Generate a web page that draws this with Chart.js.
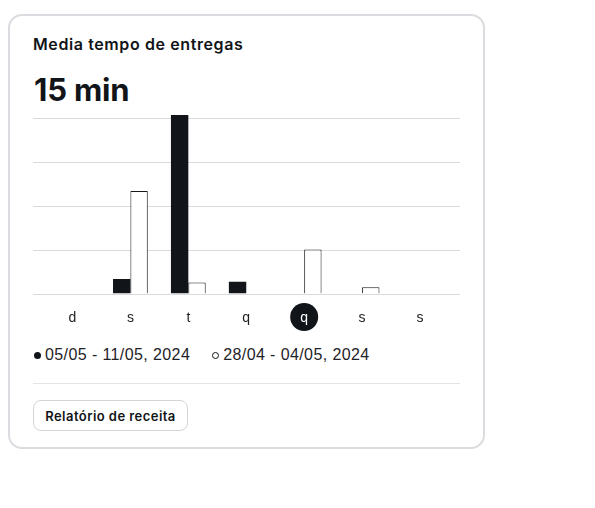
<!DOCTYPE html>
<html>
<head>
<meta charset="utf-8">
<script src="https://cdn.jsdelivr.net/npm/chart.js@4/dist/chart.umd.min.js"></script>
<style>
  html, body { margin: 0; padding: 0; background: #fff; }
  body { width: 595px; height: 508px; position: relative; overflow: hidden; font-family: Inter, "Noto Sans", sans-serif; }
  .card { position: absolute; left: 8px; top: 14px; width: 473px; height: 431px; border: 2px solid #dcdce0; border-radius: 14px; box-sizing: content-box; }
  .title { position: absolute; left: 33px; top: 34px; font: 600 16px Inter, sans-serif; color: #111418; letter-spacing: 0.6px; white-space: nowrap; }
  .value { position: absolute; left: 34px; top: 71px; font: 700 31px Inter, sans-serif; color: #111418; letter-spacing: -0.2px; white-space: nowrap; }
  #wrap { position: absolute; left: 0; top: 100px; width: 485px; height: 242.3px; }
  .legend { position: absolute; left: 34px; top: 346px; font: 16px "Liberation Sans", Arial, sans-serif; color: #1f2328; letter-spacing: 0.4px; white-space: nowrap; display: flex; align-items: center; }
  .legend span.item { display: inline-flex; align-items: center; }
  .dot { display: inline-block; width: 7px; height: 7px; border-radius: 50%; margin-right: 4px; box-sizing: border-box; }
  .sep { position: absolute; left: 33px; top: 383px; width: 427px; height: 1px; background: #e4e4e7; }
  .btn { position: absolute; left: 33px; top: 400px; width: 155px; height: 31px; box-sizing: border-box; border: 1px solid #d4d4d8; border-radius: 8px; font: 600 13px Inter, sans-serif; color: #111418; letter-spacing: 0.45px; display: flex; align-items: center; justify-content: center; }
</style>
</head>
<body>
<div class="card"></div>
<div class="title">Media tempo de entregas</div>
<div class="value">15 min</div>
<div id="wrap"><canvas id="c"></canvas></div>
<div class="legend" id="legend"></div>
<div class="sep"></div>
<div class="btn">Relatório de receita</div>
<script>
const categories = ['d', 's', 't', 'q', 'q', 's', 's'];
const currentLabel = '05/05 - 11/05, 2024';
const previousLabel = '28/04 - 04/05, 2024';
const currentWeek = [0, 3.3, 40.6, 2.7, 0, 0, 0];
const previousWeek = [0, 23.3, 2.5, 0, 10, 1.4, 0];
const gridValues = [0, 10, 20, 30, 40];
const highlightIndex = 4;

const DARK = '#111418';

// HTML legend
const legend = document.getElementById('legend');
legend.innerHTML =
  '<span class="item"><span class="dot" style="background:' + DARK + '"></span>' + currentLabel + '</span>' +
  '<span class="item" style="margin-left:22px"><span class="dot" style="border:1px solid ' + DARK + ';background:#fff"></span>' + previousLabel + '</span>';

const gridPlugin = {
  id: 'extGrid',
  beforeDraw(chart) {
    const { ctx, chartArea, scales } = chart;
    ctx.save();
    ctx.strokeStyle = '#d9d9de';
    ctx.lineWidth = 1;
    gridValues.forEach(v => {
      const y = Math.round(scales.y.getPixelForValue(v)) + 0.5;
      ctx.beginPath();
      ctx.moveTo(chartArea.left - 10.5, y);
      ctx.lineTo(chartArea.right + 11, y);
      ctx.stroke();
    });
    // highlight circle behind the selected tick label
    const x = scales.x.getPixelForTick(highlightIndex);
    const cy = chartArea.bottom + 23.5;
    ctx.fillStyle = DARK;
    ctx.beginPath();
    ctx.arc(x, cy, 14, 0, Math.PI * 2);
    ctx.fill();
    ctx.restore();
  }
};

new Chart(document.getElementById('c'), {
  type: 'bar',
  data: {
    labels: categories,
    datasets: [
      { label: currentLabel, data: currentWeek, backgroundColor: DARK, borderColor: DARK, borderWidth: 0 },
      { label: previousLabel, data: previousWeek, backgroundColor: '#ffffff', borderColor: '#18181b', borderWidth: 1 }
    ]
  },
  options: {
    responsive: true,
    maintainAspectRatio: false,
    animation: false,
    devicePixelRatio: 1,
    layout: { padding: { left: 43.5, right: 36, top: 15, bottom: 0 } },
    datasets: { bar: { categoryPercentage: 0.6, barPercentage: 1.0 } },
    plugins: { legend: { display: false }, tooltip: { enabled: false } },
    scales: {
      x: {
        grid: { display: false, drawTicks: false },
        border: { display: false },
        ticks: {
          padding: 16,
          font: { family: '"Liberation Sans", Arial, sans-serif', size: 14 },
          color: (c) => c.index === highlightIndex ? '#ffffff' : '#222222',
          maxRotation: 0
        }
      },
      y: {
        display: false,
        min: 0,
        max: Math.max(...currentWeek, ...previousWeek)
      }
    }
  },
  plugins: [gridPlugin]
});
</script>
</body>
</html>
